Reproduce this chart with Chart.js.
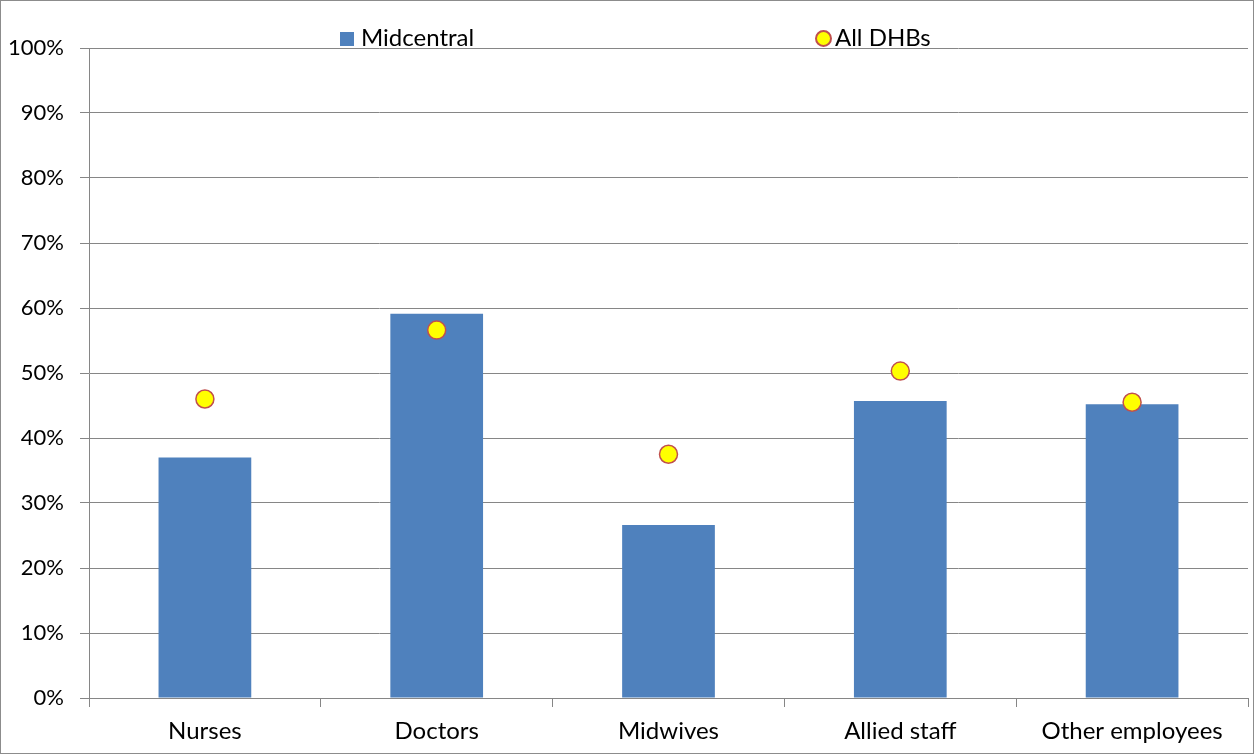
<!DOCTYPE html>
<html>
<head>
<meta charset="utf-8">
<script src="https://cdn.jsdelivr.net/npm/chart.js@4/dist/chart.umd.min.js"></script>
<style>
    html, body { margin: 0; padding: 0; background: #fff; }
    .frame {
        position: relative;
        width: 1254px;
        height: 754px;
        box-sizing: border-box;
        border: 1px solid #8c8c8c;
        font-family: Lato, "Open Sans", sans-serif;
    }
    .frame canvas { display: block; }
    .legend_item {
        position: absolute;
        top: 22px;
        font-size: 24px;
        line-height: 28px;
        color: #000;
        white-space: nowrap;
    }
    .sw_rect {
        display: inline-block;
        width: 14px; height: 14px;
        background: #4F81BD;
        margin-right: 7px;
        vertical-align: 0px;
    }
    .sw_dot {
        display: inline-block;
        width: 17px; height: 17px;
        box-sizing: border-box;
        border-radius: 50%;
        background: #FFFF00;
        border: 2px solid #C0504D;
        margin-right: 3px;
        vertical-align: -1px;
    }
</style>
</head>
<body>
<div class="frame">
    <div class="legend_item" style="left:339px"><span class="sw_rect"></span>Midcentral</div>
    <div class="legend_item" style="left:814px"><span class="sw_dot"></span>All DHBs</div>
    <canvas id="myChart" width="1252" height="752"></canvas>
</div>
<script>
const categories = ['Nurses', 'Doctors', 'Midwives', 'Allied staff', 'Other employees'];
const midcentral = [37, 59.1, 26.6, 45.7, 45.2];
const allDhbs = [46, 56.6, 37.5, 50.3, 45.5];
const yTicks = [0, 10, 20, 30, 40, 50, 60, 70, 80, 90, 100];

const gridColor = '#868686';
const xFont = { family: 'Lato, "Open Sans", sans-serif', size: 24 };
const yFont = { family: 'Lato, "Open Sans", sans-serif', size: 22 };

const ctx = document.getElementById('myChart').getContext('2d');
const myChart = new Chart(ctx, {
    data: {
        labels: categories,
        datasets: [{
            type: 'scatter',
            label: 'All DHBs',
            data: allDhbs,
            showLine: false,
            pointRadius: 9,
            pointHoverRadius: 9,
            pointBorderWidth: 1.5,
            backgroundColor: '#FFFF00',
            borderColor: '#C0504D',
            order: 0
        }, {
            type: 'bar',
            label: 'Midcentral',
            data: midcentral,
            backgroundColor: '#4F81BD',
            barPercentage: 0.4,
            categoryPercentage: 1,
            order: 1
        }]
    },
    options: {
        responsive: false,
        animation: false,
        layout: { autoPadding: false, padding: { top: 47, right: 5, left: 0, bottom: 0 } },
        plugins: {
            legend: { display: false },
            tooltip: { enabled: false }
        },
        scales: {
            x: {
                type: 'category',
                offset: true,
                grid: {
                    offset: true,
                    drawOnChartArea: false,
                    drawTicks: true,
                    tickLength: 9,
                    color: gridColor
                },
                border: { color: gridColor },
                ticks: { color: '#000', font: xFont, padding: 10, maxRotation: 0 },
                afterFit: (scale) => {
                    scale.height = 55;
                    scale.paddingLeft = 0;
                    scale.paddingRight = 0;
                }
            },
            y: {
                min: 0,
                max: 100,
                afterBuildTicks: (scale) => { scale.ticks = yTicks.map(v => ({ value: v })); },
                grid: { color: gridColor, tickLength: 9 },
                border: { color: gridColor },
                ticks: {
                    color: '#000',
                    font: yFont,
                    padding: 16,
                    callback: (v) => v + '%'
                },
                afterFit: (scale) => { scale.width = 88; }
            }
        }
    }
});
</script>
</body>
</html>
